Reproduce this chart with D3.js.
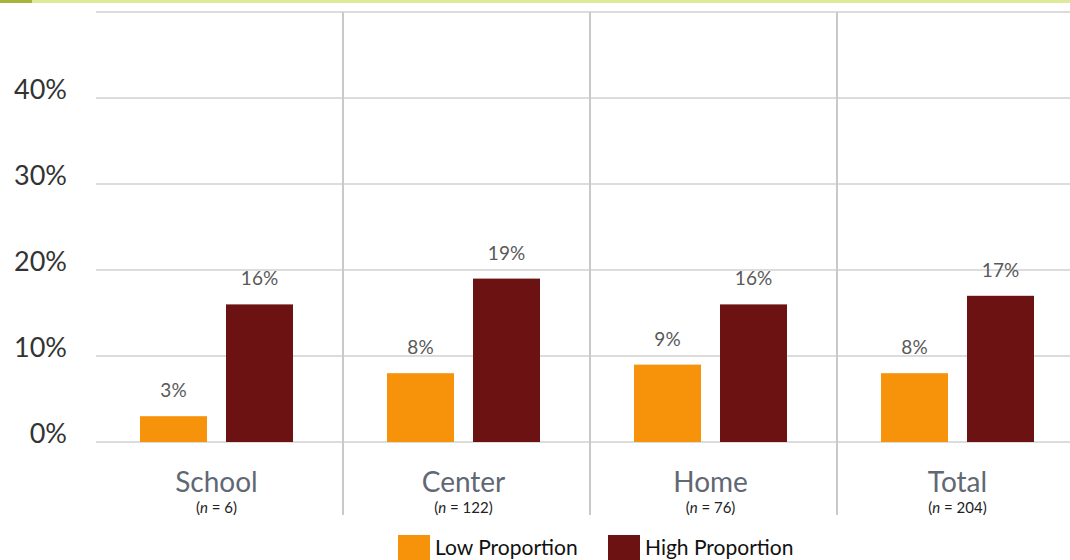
<!DOCTYPE html>
<html>
<head>
<meta charset="utf-8">
<script src="https://cdn.jsdelivr.net/npm/d3@7"></script>
<style>
  html, body { margin: 0; padding: 0; background: #fff; }
  svg { display: block; font-family: Lato, "Open Sans", sans-serif; }
</style>
</head>
<body>
<svg id="chart" width="1070" height="560"></svg>
<script>
// Settings and their sample sizes
const categories = ["School", "Center", "Home", "Total"];
const sampleSizes = [6, 122, 76, 204];
// Share of children in each setting (percent)
const lowProportion = [3, 8, 9, 8];
const highProportion = [16, 19, 16, 17];
const seriesNames = ["Low Proportion", "High Proportion"];
const yTicks = [0, 10, 20, 30, 40];

const colors = { "Low Proportion": "#f7930a", "High Proportion": "#6d1212" };

const svg = d3.select("#chart");

// Top accent stripe
svg.append("rect").attr("x", 0).attr("y", 0).attr("width", 1070).attr("height", 3).attr("fill", "#dfe99a");
svg.append("rect").attr("x", 0).attr("y", 0).attr("width", 32).attr("height", 3).attr("fill", "#a7b33a");

const plot = { left: 96, right: 1084, top: 12, bottom: 442 };
const pairWidth = 153;

const x = d3.scaleBand().domain(categories).range([plot.left, plot.right]).paddingInner(0).paddingOuter(0);
const xInner = d3.scaleBand().domain(seriesNames).range([0, pairWidth]).paddingInner(0.221);
const y = d3.scaleLinear().domain([0, 50]).range([plot.bottom, plot.top]);

// Horizontal gridlines
svg.append("g")
  .selectAll("line")
  .data(d3.range(0, 51, 10))
  .join("line")
  .attr("x1", plot.left).attr("x2", 1070)
  .attr("y1", d => y(d)).attr("y2", d => y(d))
  .attr("stroke", "#dcdcdc").attr("stroke-width", 2);

// Vertical group separators
svg.append("g")
  .selectAll("line")
  .data(categories.slice(1))
  .join("line")
  .attr("x1", d => x(d)).attr("x2", d => x(d))
  .attr("y1", plot.top).attr("y2", 515)
  .attr("stroke", "#c9c9c9").attr("stroke-width", 2);

// Y axis labels
const yAxis = d3.axisLeft(y).tickValues(yTicks).tickFormat(d => d + "%").tickSize(0).tickPadding(0);
const yg = svg.append("g").attr("transform", "translate(67,-8)").call(yAxis);
yg.select(".domain").remove();
yg.selectAll("text").attr("font-size", 27).attr("fill", "#333").attr("font-family", "Lato, 'Open Sans', sans-serif");

// Bars
const rows = categories.map((c, i) => ({
  cat: c,
  vals: [
    { s: "Low Proportion", v: lowProportion[i] },
    { s: "High Proportion", v: highProportion[i] }
  ]
}));

const groups = svg.append("g").selectAll("g")
  .data(rows).join("g")
  .attr("transform", d => `translate(${x(d.cat) + (x.bandwidth() - pairWidth) / 2 - 3},0)`);

groups.selectAll("rect")
  .data(d => d.vals).join("rect")
  .attr("x", d => xInner(d.s))
  .attr("width", xInner.bandwidth())
  .attr("y", d => y(d.v))
  .attr("height", d => y(0) - y(d.v))
  .attr("fill", d => colors[d.s]);

groups.selectAll("text")
  .data(d => d.vals).join("text")
  .attr("x", d => xInner(d.s) + xInner.bandwidth() / 2)
  .attr("y", d => y(d.v) - 19)
  .attr("text-anchor", "middle")
  .attr("font-size", 19)
  .attr("fill", "#595959")
  .text(d => d.v + "%");

// Category labels with sample sizes
const catLabels = svg.append("g").selectAll("g")
  .data(categories).join("g")
  .attr("transform", d => `translate(${x(d) + x.bandwidth() / 2 - 3},0)`);

catLabels.append("text")
  .attr("y", 492)
  .attr("text-anchor", "middle")
  .attr("font-size", 28)
  .attr("fill", "#5f6873")
  .text(d => d);

catLabels.append("text")
  .attr("y", 513)
  .attr("text-anchor", "middle")
  .attr("font-size", 15)
  .attr("fill", "#222")
  .each(function(d, i) {
    const t = d3.select(this);
    t.append("tspan").text("(");
    t.append("tspan").attr("font-style", "italic").text("n");
    t.append("tspan").text(" = " + sampleSizes[i] + ")");
  });

// Legend
const legendX = [398, 608];
const legend = svg.append("g").selectAll("g")
  .data(seriesNames).join("g")
  .attr("transform", (d, i) => `translate(${legendX[i]},535)`);

legend.append("rect")
  .attr("width", 32).attr("height", 25)
  .attr("fill", d => colors[d]);

legend.append("text")
  .attr("x", 37).attr("y", 20)
  .attr("font-size", 21)
  .attr("fill", "#111")
  .text(d => d);
</script>
</body>
</html>
